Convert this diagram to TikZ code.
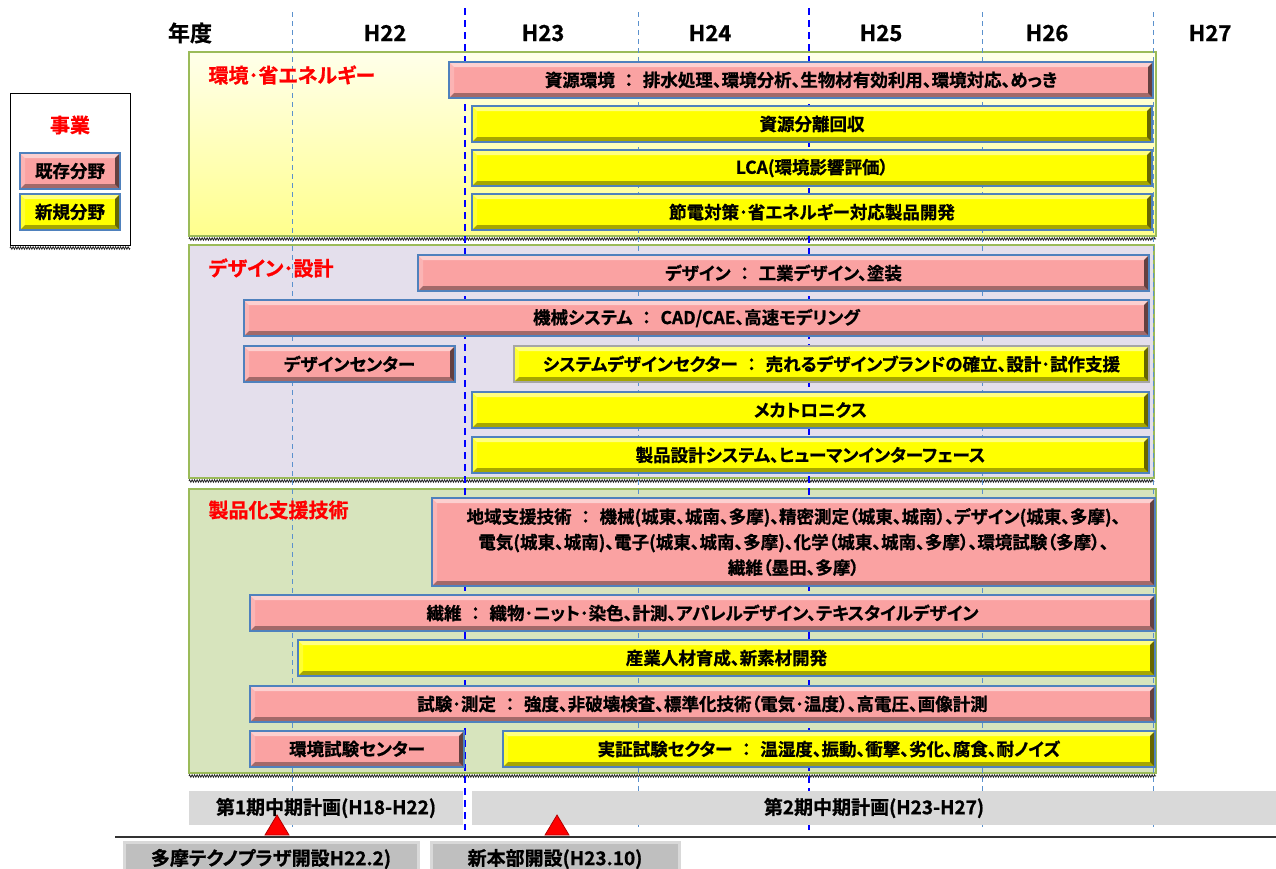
\documentclass[tikz,border=0pt]{standalone}
\usepackage{fontspec}
\setmainfont{Noto Sans CJK JP}[BoldFont={Noto Sans CJK JP Bold}, BoldFeatures={FakeBold=0.8}, RawFeature=+palt]
\usetikzlibrary{calc,positioning,decorations.pathmorphing}

\definecolor{oldpink}{RGB}{250,162,162}
\definecolor{newyellow}{RGB}{255,255,0}
\definecolor{barblue}{RGB}{79,129,189}
\definecolor{grpgreen}{RGB}{155,187,89}
\definecolor{grplilac}{RGB}{228,223,236}
\definecolor{grpolive}{RGB}{215,228,189}
\definecolor{dashblue}{RGB}{91,145,205}

\newcommand{\colsep}{\hspace{.55em}：\hspace{.55em}}

\tikzset{
  bar/.style={draw=barblue, line width=1.5pt, inner sep=0pt, minimum height=36,
    font=\fontsize{17.5}{25.5}\selectfont\bfseries,
    path picture={
      \coordinate (pnw) at (path picture bounding box.north west);
      \coordinate (pne) at (path picture bounding box.north east);
      \coordinate (psw) at (path picture bounding box.south west);
      \coordinate (pse) at (path picture bounding box.south east);
      \fill[white, opacity=.5] (pnw) -- (pne) -- ([shift={(-5pt,-5pt)}]pne) -- ([shift={(5pt,-5pt)}]pnw) -- cycle;
      \fill[white, opacity=.2] (pnw) -- (psw) -- ([shift={(5pt,5pt)}]psw) -- ([shift={(5pt,-5pt)}]pnw) -- cycle;
      \fill[black, opacity=.35] (psw) -- (pse) -- ([shift={(-5pt,5pt)}]pse) -- ([shift={(5pt,5pt)}]psw) -- cycle;
      \fill[black, opacity=.6] (pne) -- (pse) -- ([shift={(-5pt,5pt)}]pse) -- ([shift={(-5pt,-5pt)}]pne) -- cycle;
    }},
  oldbar/.style={bar, fill=oldpink},
  newbar/.style={bar, fill=newyellow},
  grpbox/.style={draw=grpgreen, line width=1.2pt},
  grplabel/.style={anchor=west, text=red, font=\fontsize{20}{24}\selectfont\bfseries},
  yearlabel/.style={font=\fontsize{22}{26}\selectfont\bfseries},
  ragged/.style={decorate, decoration={zigzag, segment length=2.5pt, amplitude=1.2pt}, line width=.8pt, black!85},
  thinyear/.style={dashblue, line width=1pt, dash pattern=on 5pt off 4pt},
  thickyear/.style={blue, line width=1.8pt, dash pattern=on 7pt off 5pt},
  planband/.style={fill=gray!30, inner sep=0pt, minimum height=34, font=\fontsize{19}{22}\selectfont\bfseries},
  eventbox/.style={fill=gray!50, draw=gray!30, line width=3pt, inner sep=0pt, minimum height=34, font=\fontsize{19}{22}\selectfont\bfseries},
  marker/.style={fill=red, draw=red!70!black, line width=.8pt}
}

\begin{document}
\begin{tikzpicture}[x=1pt, y=-1pt]
  \clip (0,0) rectangle (1276,868);
  \fill[white] (0,0) rectangle (1276,868);

  % groups
  \shade[top color=yellow!8, bottom color=yellow!45] (189,52) rectangle (1156,236);
  \draw[grpbox] (189,52) rectangle (1156,236);
  \draw[grpbox, fill=grplilac] (189,245) rectangle (1154,478);
  \draw[grpbox, fill=grpolive] (189,489) rectangle (1156,773);
  \draw[ragged] (189,239) -- (1156,239);
  \draw[ragged] (189,481) -- (1154,481);
  \draw[ragged] (189,776) -- (1156,776);

  % year lines
  \foreach \x in {292,638,982,1153}
    \draw[thinyear] (\x,12) -- (\x,830);
  \foreach \x in {465,809}
    \draw[thickyear] (\x,8) -- (\x,830);

  \node[yearlabel] (nendo) at (190,33) {年度};
  \node[yearlabel] (h22) at (385,33) {H22};
  \node[yearlabel] (h23) at (543,33) {H23};
  \node[yearlabel] (h24) at (710,33) {H24};
  \node[yearlabel] (h25) at (881,33) {H25};
  \node[yearlabel] (h26) at (1047,33) {H26};
  \node[yearlabel] (h27) at (1210,33) {H27};

  % legend
  \draw[fill=white, line width=.8pt] (10,93) rectangle (130,245);
  \draw[ragged] (10,248) -- (130,248);
  \node[text=red, font=\fontsize{20}{24}\selectfont\bfseries] (jigyo) at (70,125) {事業};
  \node[oldbar, minimum width=100] (legold) at (70,171) {既存分野};
  \node[newbar, minimum width=100] (legnew) at (70,212) {新規分野};

  % environment
  \node[grplabel] (envlabel) at (205,75) {環境･省エネルギー};
  \node[oldbar, minimum width=704] (env1) at (801,80) {資源環境\colsep 排水処理、環境分析、生物材有効利用、環境対応、めっき};
  \node[newbar, minimum width=680] (env2) at (812,124) {資源分離回収};
  \node[newbar, minimum width=680] (env3) at (812,168) {LCA(環境影響評価）};
  \node[newbar, minimum width=680] (env4) at (812,212) {節電対策･省エネルギー対応製品開発};

  % design
  \node[grplabel] (deslabel) at (205,268) {デザイン･設計};
  \node[oldbar, minimum width=731] (des1) at (783.5,273) {デザイン\colsep 工業デザイン、塗装};
  \node[oldbar, minimum width=905] (des2) at (696.5,318) {機械システム\colsep CAD/CAE、高速モデリング};
  \node[oldbar, minimum width=211] (des3) at (349.5,364) {デザインセンター};
  \node[newbar, draw=gray!70, minimum width=635] (des4) at (831.5,364) {システムデザインセクター\colsep 売れるデザインブランドの確立、設計･試作支援};
  \node[newbar, minimum width=677] (des5) at (810.5,410) {メカトロニクス};
  \node[newbar, minimum width=677] (des6) at (810.5,455) {製品設計システム、ヒューマンインターフェース};

  % product support
  \node[grplabel] (prdlabel) at (205,510) {製品化支援技術};
  \node[oldbar, minimum width=723, minimum height=88, align=center] (prd1) at (793.5,542)
    {地域支援技術\colsep 機械(城東、城南、多摩)、精密測定（城東、城南）、デザイン(城東、多摩)、\\
     電気(城東、城南)、電子(城東、城南、多摩)、化学（城東、城南、多摩）、環境試験（多摩）、\\
     繊維（墨田、多摩）};
  \node[oldbar, minimum width=905] (prd2) at (702.5,613) {繊維\colsep 織物･ニット･染色、計測、アパレルデザイン、テキスタイルデザイン};
  \node[newbar, minimum width=857] (prd3) at (726.5,658) {産業人材育成、新素材開発};
  \node[oldbar, minimum width=905] (prd4) at (702.5,704) {試験･測定\colsep 強度、非破壊検査、標準化技術（電気･温度）、高電圧、画像計測};
  \node[oldbar, minimum width=214] (prd5) at (357,749) {環境試験センター};
  \node[newbar, minimum width=652] (prd6) at (829,749) {実証試験セクター\colsep 温湿度、振動、衝撃、劣化、腐食、耐ノイズ};

  % plans and events
  \node[planband, minimum width=274] (plan1) at (326,808) {第1期中期計画(H18-H22)};
  \node[planband, minimum width=804] (plan2) at (874,808) {第2期中期計画(H23-H27)};
  \draw[black!80, line width=1.5pt] (115,837) -- (1276,837);
  \coordinate (tama) at (277,815);
  \coordinate (honbu) at (557,815);
  \draw[marker] (tama) -- ++(12,20) -- ++(-24,0) -- cycle;
  \draw[marker] (honbu) -- ++(12,20) -- ++(-24,0) -- cycle;
  \node[eventbox, minimum width=294] (tamaopen) at (271,859) {多摩テクノプラザ開設H22.2)};
  \node[eventbox, minimum width=248] (honbuopen) at (555,859) {新本部開設(H23.10)};
\end{tikzpicture}
\end{document}
